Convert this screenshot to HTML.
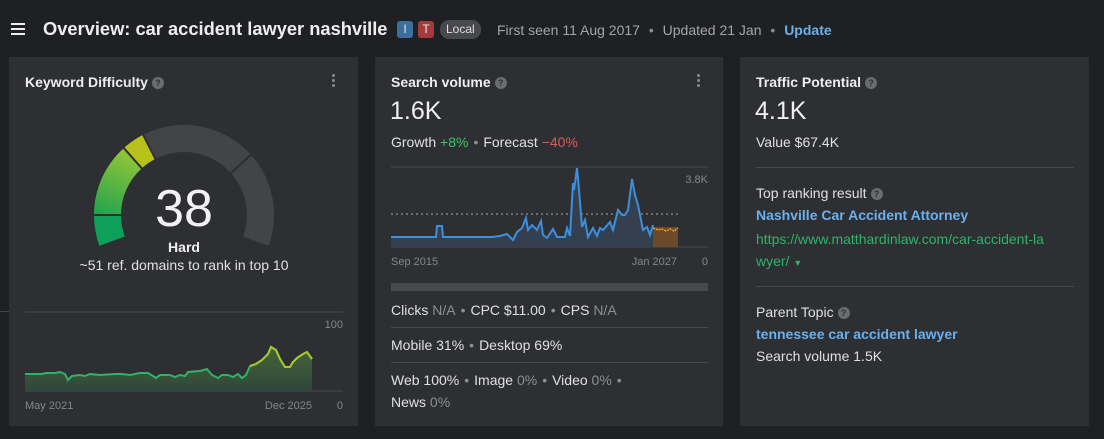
<!DOCTYPE html>
<html><head><meta charset="utf-8"><style>
*{margin:0;padding:0;box-sizing:border-box}
body{width:1104px;height:439px;background:#1f2023;font-family:"Liberation Sans",sans-serif;color:#e6e6e6;position:relative;overflow:hidden}
.a{position:absolute;white-space:nowrap}
.card{position:absolute;top:57px;height:369px;background:#2e2f32}
.h{font-size:14px;font-weight:bold;color:#eee}
.q{display:inline-block;width:12px;height:12px;border-radius:50%;background:#6b6c70;color:#2e2f32;font-size:9px;text-align:center;line-height:12px;font-weight:bold;vertical-align:1px;margin-left:4px}
.t{font-size:14px;color:#e0e0e0}
.g{color:#8e8f93}
.dot{color:#8e8f93;margin:0 5px}
.hr{position:absolute;height:1px;background:#48494d}
.lnk{color:#6ab0ec;font-weight:bold;font-size:14px}
.sm{font-size:11px;color:#85868a}
</style></head><body>
<div class="a" style="left:11px;top:23px;width:14px">
<div style="height:2px;background:#eee;margin-bottom:3px"></div><div style="height:2px;background:#eee;margin-bottom:3px"></div><div style="height:2px;background:#eee"></div></div>
<div class="a" style="left:43px;top:18px;font-size:18.3px;font-weight:bold;color:#eee">Overview: car accident lawyer nashville</div>
<div class="a" style="left:397px;top:21px;width:16px;height:17px;background:#3c6e9e;border-radius:3px;font-size:12px;text-align:center;line-height:17px">I</div>
<div class="a" style="left:418px;top:21px;width:16px;height:17px;background:#a33b3b;border-radius:3px;font-size:12px;text-align:center;line-height:17px">T</div>
<div class="a" style="left:440px;top:20px;height:19px;padding:0 6px;background:#48494d;border-radius:9px;font-size:12px;line-height:19px;color:#ddd">Local</div>
<div class="a" style="left:497px;top:22px;font-size:14px;color:#a4a5a9">First seen 11 Aug 2017 <span class="dot">•</span> Updated 21 Jan <span class="dot">•</span> <b style="color:#6ab0ec">Update</b></div>
<div class="a" style="left:0;top:311px;width:9px;height:1px;background:#444"></div>

<div class="card" style="left:9px;width:349px"></div>
<div class="card" style="left:375px;width:348px"></div>
<div class="card" style="left:740px;width:349px"></div>

<div class="a h" style="left:25px;top:74px">Keyword Difficulty<span class="q">?</span></div>
<div class="a" style="left:332px;top:74px;width:3px"><div style="width:3px;height:3px;background:#888;border-radius:50%;margin-bottom:2px"></div><div style="width:3px;height:3px;background:#888;border-radius:50%;margin-bottom:2px"></div><div style="width:3px;height:3px;background:#888;border-radius:50%"></div></div>
<svg class="a" style="left:0;top:0" width="1104" height="439">
<defs><linearGradient id="gg" x1="0" y1="1" x2="0.3" y2="0"><stop offset="0" stop-color="#1fa24e"/><stop offset="1" stop-color="#8cc43a"/></linearGradient>
<linearGradient id="kd" x1="0" y1="0" x2="0" y2="1"><stop offset="0" stop-color="#4a6a3a"/><stop offset="1" stop-color="#2f4a3c"/></linearGradient></defs>
<path d="M99.4,245.8 A90,90 0 0 1 94,215 L121,215 A63,63 0 0 0 124.8,236.5Z" fill="#0ea05a"/>
<path d="M94,215 A90,90 0 0 1 123.8,148.1 L141.8,168.2 A63,63 0 0 0 121,215Z" fill="url(#gg)"/>
<path d="M123.8,148.1 A90,90 0 0 1 143.1,134.8 L155.4,158.9 A63,63 0 0 0 141.8,168.2Z" fill="#b6c21a"/>
<path d="M143.1,134.8 A90,90 0 0 1 268.6,245.8 L243.2,236.5 A63,63 0 0 0 155.4,158.9Z" fill="#434447"/>
<g stroke="#2e2f32" stroke-width="2"><line x1="92" y1="215" x2="123" y2="215"/><line x1="122.5" y1="146.6" x2="143" y2="169.7"/><line x1="142.2" y1="133" x2="156.3" y2="160.7"/><line x1="252.4" y1="153.5" x2="229.3" y2="174.2"/></g>
<text x="184" y="226" text-anchor="middle" font-size="52" fill="#f2f2f2" font-family="Liberation Sans">38</text>
<text x="184" y="252" text-anchor="middle" font-size="14" font-weight="bold" fill="#eee" font-family="Liberation Sans">Hard</text>
<text x="184" y="270" text-anchor="middle" font-size="14" fill="#e0e0e0" font-family="Liberation Sans">~51 ref. domains to rank in top 10</text>
<line x1="25" y1="312" x2="343" y2="312" stroke="#48494d"/><line x1="25" y1="391" x2="343" y2="391" stroke="#48494d"/>
<text x="343" y="328" text-anchor="end" font-size="11" fill="#85868a" font-family="Liberation Sans">100</text>
<text x="25" y="409" font-size="11" fill="#85868a" font-family="Liberation Sans">May 2021</text>
<text x="312" y="409" text-anchor="end" font-size="11" fill="#85868a" font-family="Liberation Sans">Dec 2025</text>
<text x="343" y="409" text-anchor="end" font-size="11" fill="#85868a" font-family="Liberation Sans">0</text>
<path d="M25,374 L42,374 L46,373 L55,373 L60,372 L65,374 L68,380 L72,376 L80,375 L85,376 L90,374 L100,375 L115,374 L122,374 L130,375 L140,373 L148,373 L153,376 L156,378 L160,375 L170,375 L175,377 L180,375 L185,376 L188,372 L200,371 L207,369 L212,375 L218,378 L222,375 L228,375 L233,377 L238,374 L242,378 L246,375 L250,366 L256,364 L262,360 L268,354 L271,347 L276,350 L280,359 L285,367 L290,367 L293,362 L297,358 L303,354 L307,352 L312,359 L312,391 L25,391Z" fill="url(#kd)" opacity="0.9"/>
<polyline points="25,374 42,374 46,373 55,373 60,372 65,374 68,380 72,376 80,375 85,376 90,374 100,375 115,374 122,374 130,375 140,373 148,373 153,376 156,378 160,375 170,375 175,377 180,375 185,376 188,372 200,371 207,369 212,375 218,378 222,375 228,375 233,377 238,374 242,378 246,375 250,366 256,364 262,360 268,354 271,347 276,350 280,359 285,367 290,367 293,362 297,358 303,354 307,352 312,359" fill="none" stroke="#2fb36a" stroke-width="2"/>
<polyline points="250,366 256,364 262,360 268,354 271,347 276,350 280,359 285,367 290,367 293,362 297,358 303,354 307,352 312,359" fill="none" stroke="#a9c830" stroke-width="2"/>

<line x1="391" y1="167" x2="708" y2="167" stroke="#48494d"/><line x1="391" y1="247" x2="708" y2="247" stroke="#48494d"/>
<line x1="391" y1="214" x2="678" y2="214" stroke="#aaa" stroke-dasharray="2,3"/>
<text x="708" y="183" text-anchor="end" font-size="11" fill="#85868a" font-family="Liberation Sans">3.8K</text>
<text x="391" y="265" font-size="11" fill="#85868a" font-family="Liberation Sans">Sep 2015</text>
<text x="677" y="265" text-anchor="end" font-size="11" fill="#85868a" font-family="Liberation Sans">Jan 2027</text>
<text x="708" y="265" text-anchor="end" font-size="11" fill="#85868a" font-family="Liberation Sans">0</text>
<rect x="653" y="227" width="25" height="20" fill="#6a4a2a"/>
<polyline points="653,228 658,230 662,229 666,231 670,229 674,231 678,228" fill="none" stroke="#f0a030" stroke-width="1.5" stroke-dasharray="2,1"/>
<path d="M391,237 L436,237 L437,226 L442,226 L443,237 L492,237 L500,236 L507,234 L513,240 L517,232 L522,228 L526,218 L528,230 L532,225 L537,230 L541,221 L543,235 L547,238 L553,229 L557,237 L565,237 L567,228 L570,236 L573,183 L574,190 L577,168 L579,190 L582,227 L585,220 L588,237 L593,228 L597,236 L600,228 L603,230 L610,222 L613,230 L618,210 L622,215 L625,215 L628,210 L632,179 L635,195 L638,205 L643,230 L647,227 L650,235 L653,225 L653,247 L391,247Z" fill="#34404f"/>
<polyline points="391,237 436,237 437,226 442,226 443,237 492,237 500,236 507,234 513,240 517,232 522,228 526,218 528,230 532,225 537,230 541,221 543,235 547,238 553,229 557,237 565,237 567,228 570,236 573,183 574,190 577,168 579,190 582,227 585,220 588,237 593,228 597,236 600,228 603,230 610,222 613,230 618,210 622,215 625,215 628,210 632,179 635,195 638,205 643,230 647,227 650,235 653,225" fill="none" stroke="#3b8fdc" stroke-width="2"/>
<rect x="391" y="283" width="317" height="8" fill="#48494d"/>
</svg>

<div class="a h" style="left:391px;top:74px">Search volume<span class="q">?</span></div>
<div class="a" style="left:697px;top:74px;width:3px"><div style="width:3px;height:3px;background:#888;border-radius:50%;margin-bottom:2px"></div><div style="width:3px;height:3px;background:#888;border-radius:50%;margin-bottom:2px"></div><div style="width:3px;height:3px;background:#888;border-radius:50%"></div></div>
<div class="a" style="left:390px;top:97px;font-size:25px;color:#f0f0f0">1.6K</div>
<div class="a t" style="left:391px;top:134px">Growth <span style="color:#3cc46a">+8%</span><span class="dot">•</span>Forecast <span style="color:#e05a5a">−40%</span></div>
<div class="a t" style="left:391px;top:302px">Clicks <span class="g">N/A</span><span class="dot">•</span>CPC $11.00<span class="dot">•</span>CPS <span class="g">N/A</span></div>
<div class="hr" style="left:391px;top:327px;width:317px"></div>
<div class="a t" style="left:391px;top:337px">Mobile 31%<span class="dot">•</span>Desktop 69%</div>
<div class="hr" style="left:391px;top:362px;width:317px"></div>
<div class="a t" style="left:391px;top:372px">Web 100%<span class="dot">•</span>Image <span class="g">0%</span><span class="dot">•</span>Video <span class="g">0%</span><span class="dot">•</span></div>
<div class="a t" style="left:391px;top:394px">News <span class="g">0%</span></div>

<div class="a h" style="left:756px;top:74px">Traffic Potential<span class="q">?</span></div>
<div class="a" style="left:755px;top:97px;font-size:25px;color:#f0f0f0">4.1K</div>
<div class="a t" style="left:756px;top:134px">Value $67.4K</div>
<div class="hr" style="left:756px;top:167px;width:318px"></div>
<div class="a t" style="left:756px;top:185px">Top ranking result<span class="q">?</span></div>
<div class="a lnk" style="left:756px;top:207px">Nashville Car Accident Attorney</div>
<div class="a t" style="left:756px;top:231px;color:#2fb36a">https://www.matthardinlaw.com/car-accident-la</div>
<div class="a t" style="left:756px;top:253px;color:#2fb36a">wyer/ <span style="font-size:9px">▼</span></div>
<div class="hr" style="left:756px;top:286px;width:318px"></div>
<div class="a t" style="left:756px;top:304px">Parent Topic<span class="q">?</span></div>
<div class="a lnk" style="left:756px;top:326px">tennessee car accident lawyer</div>
<div class="a t" style="left:756px;top:348px">Search volume 1.5K</div>
</body></html>
